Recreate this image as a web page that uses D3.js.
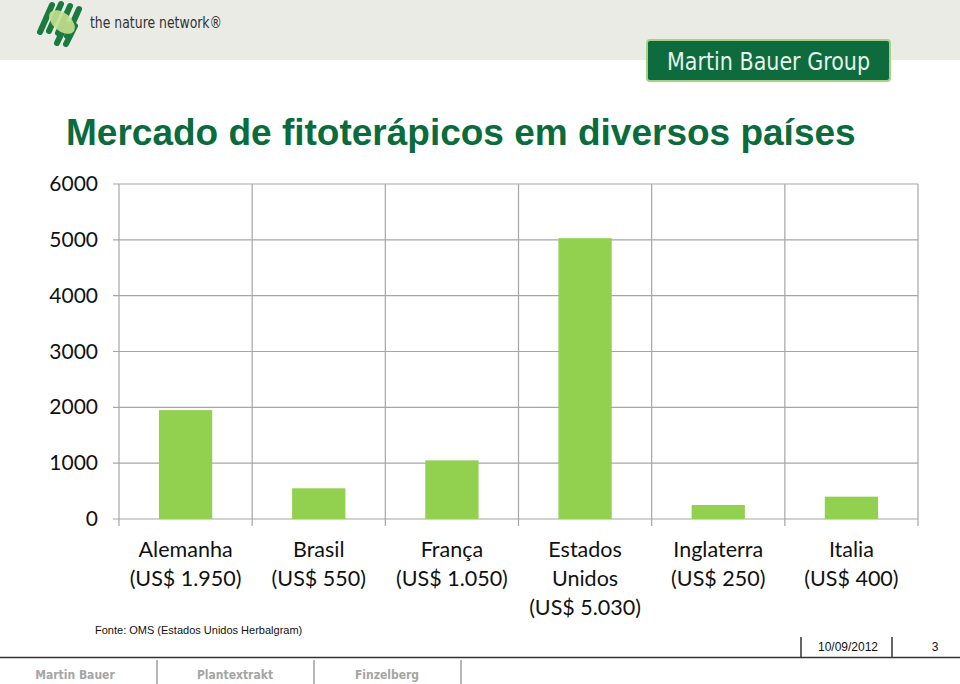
<!DOCTYPE html>
<html><head><meta charset="utf-8">
<script src="https://cdn.jsdelivr.net/npm/d3@7"></script>
<style>body{margin:0;background:#fff}svg{display:block}</style>
</head><body>
<script>
const categories = [["Alemanha","(US$ 1.950)"],["Brasil","(US$ 550)"],["França","(US$ 1.050)"],["Estados","Unidos","(US$ 5.030)"],["Inglaterra","(US$ 250)"],["Italia","(US$ 400)"]];
const values = [1950, 550, 1050, 5030, 250, 400];
const yTicks = [0, 1000, 2000, 3000, 4000, 5000, 6000];

const W = 960, H = 684;
const svg = d3.select("body").append("svg").attr("width", W).attr("height", H);

// header band
svg.append("rect").attr("x",0).attr("y",0).attr("width",W).attr("height",60).attr("fill","#ebebe6");
// logo
const logo = svg.append("g");
[[52,5,40,32],[61,4,49,31],[70,6,58,33],[79,9,67,36],[66,24,57,43],[75,26,66,44]].forEach(([x1,y1,x2,y2])=>{
  logo.append("line").attr("x1",x1).attr("y1",y1).attr("x2",x2).attr("y2",y2)
    .attr("stroke","#1b7a40").attr("stroke-width",6).attr("stroke-linecap","round");
});
logo.append("ellipse").attr("cx",62).attr("cy",22).attr("rx",15).attr("ry",9)
  .attr("transform","rotate(40,62,22)").attr("fill","#c3e08e").attr("opacity",0.9);
svg.append("text").attr("x",90).attr("y",28).attr("font-family","DejaVu Sans Condensed, DejaVu Sans")
  .attr("font-size",15).attr("fill","#333").attr("textLength",132).attr("lengthAdjust","spacingAndGlyphs")
  .text("the nature network®");
// Martin Bauer Group box
svg.append("rect").attr("x",647).attr("y",40).attr("width",243).attr("height",41).attr("rx",3)
  .attr("fill","#0d6b3e").attr("stroke","#a9cf86").attr("stroke-width",2);
svg.append("text").attr("x",667).attr("y",70)
  .attr("font-family","DejaVu Sans Condensed, DejaVu Sans")
  .attr("font-size",24).attr("fill","#e6f2ea").attr("textLength",203).attr("lengthAdjust","spacingAndGlyphs")
  .text("Martin Bauer Group");

// title
svg.append("text").attr("x",66).attr("y",145).attr("font-family","Liberation Sans, Arial")
  .attr("font-weight","bold").attr("font-size",37).attr("fill","#0a6b3c")
  .text("Mercado de fitoterápicos em diversos países");

// chart
const x0 = 119, x1 = 918, yTop = 184, yBot = 519;
const x = d3.scaleBand().domain(d3.range(categories.length)).range([x0, x1]).paddingInner(0).paddingOuter(0);
const y = d3.scaleLinear().domain([0, 6000]).range([yBot, yTop]);
const g = svg.append("g");
const font = "Lato, Carlito, Open Sans, sans-serif";

// horizontal gridlines
g.selectAll(".hg").data(yTicks).enter().append("line")
  .attr("x1", x0 - 6).attr("x2", x1).attr("y1", d=>y(d)).attr("y2", d=>y(d))
  .attr("stroke","#a6a6a6").attr("stroke-width",1.2);
// vertical category lines
const bounds = d3.range(categories.length + 1).map(i => i < categories.length ? x(i) : x1);
g.selectAll(".vg").data(bounds).enter().append("line")
  .attr("x1", d=>d).attr("x2", d=>d).attr("y1", yTop).attr("y2", yBot + 7)
  .attr("stroke","#a6a6a6").attr("stroke-width",1.2);

// bars
const bw = x.bandwidth() * 0.4;
g.selectAll(".bar").data(values).enter().append("rect")
  .attr("x",(d,i)=> x(i) + (x.bandwidth()-bw)/2).attr("width",bw)
  .attr("y", d=>y(d)).attr("height", d=>yBot - y(d)).attr("fill","#92d050");

// y labels
g.selectAll(".yl").data(yTicks).enter().append("text")
  .attr("x", 98).attr("y", d=>y(d) + 7).attr("text-anchor","end")
  .attr("font-family",font).attr("font-size",21).attr("fill","#111").text(d=>d);

// x labels
categories.forEach((lines, i) => {
  const t = g.append("text").attr("text-anchor","middle").attr("font-family",font)
    .attr("font-size",21.5).attr("fill","#111");
  lines.forEach((ln, j) => {
    t.append("tspan").attr("x", x(i) + x.bandwidth()/2).attr("y", 557 + j*29).text(ln);
  });
});

// source
svg.append("text").attr("x",95).attr("y",634).attr("font-family","Liberation Sans, Arial")
  .attr("font-size",11).attr("fill","#111").text("Fonte: OMS (Estados Unidos Herbalgram)");

// footer
svg.append("line").attr("x1",0).attr("x2",W).attr("y1",657.5).attr("y2",657.5).attr("stroke","#333").attr("stroke-width",1.5);
[801, 892].forEach(xx => svg.append("line").attr("x1",xx).attr("x2",xx).attr("y1",637).attr("y2",657)
  .attr("stroke","#333").attr("stroke-width",1.5));
svg.append("text").attr("x",848).attr("y",651).attr("text-anchor","middle").attr("font-family","Liberation Sans, Arial")
  .attr("font-size",12).attr("fill","#111").text("10/09/2012");
svg.append("text").attr("x",935).attr("y",651).attr("text-anchor","middle").attr("font-family","Liberation Sans, Arial")
  .attr("font-size",12).attr("fill","#111").text("3");

// bottom brands
[["Martin Bauer",75],["Plantextrakt",235],["Finzelberg",387]].forEach(([t,cx]) =>
  svg.append("text").attr("x",cx).attr("y",679).attr("text-anchor","middle")
    .attr("font-family","DejaVu Sans Condensed, DejaVu Sans").attr("font-weight","bold")
    .attr("font-size",12).attr("fill","#a5a5a5").text(t));
[157, 314, 461].forEach(xx => svg.append("line").attr("x1",xx).attr("x2",xx).attr("y1",660).attr("y2",684)
  .attr("stroke","#888").attr("stroke-width",1.2));
</script>
</body></html>
